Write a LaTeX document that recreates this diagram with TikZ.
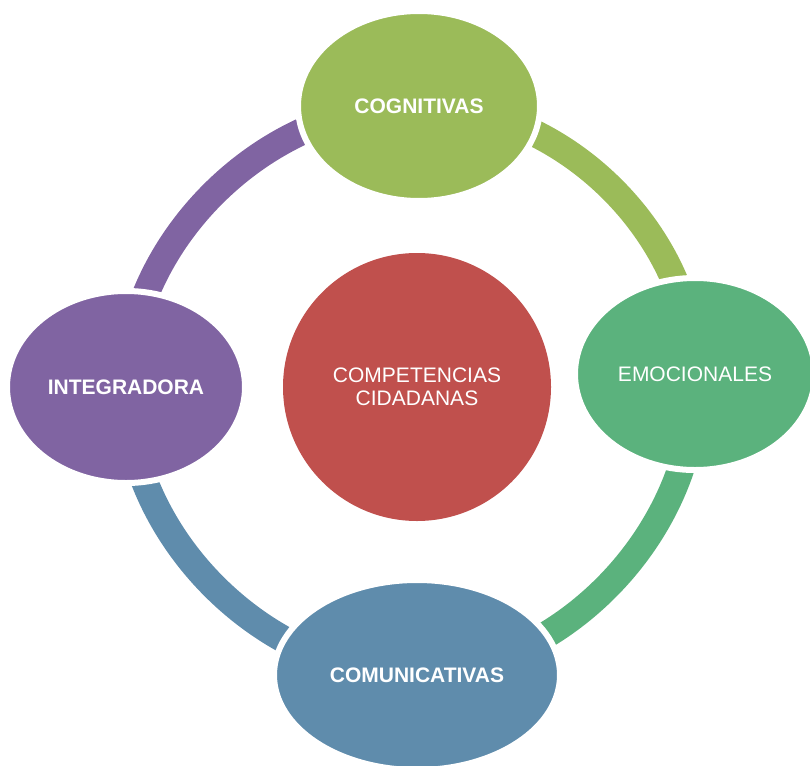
\documentclass[tikz,border=0pt]{standalone}
\usepackage{fontspec}
\setmainfont{Liberation Sans}
\usetikzlibrary{positioning, shapes.geometric, backgrounds}

\definecolor{cogGreen}{HTML}{9BBB59}
\definecolor{emoGreen}{HTML}{5BB27D}
\definecolor{comBlue}{HTML}{5F8CAC}
\definecolor{intPurple}{HTML}{8064A2}
\definecolor{coreRed}{HTML}{C0504D}

\begin{document}
\begin{tikzpicture}[
    x=1pt, y=1pt,
    petal/.style = {
        ellipse, draw=white, line width=6pt, inner sep=0pt,
        align=center, text=white, font=\fontsize{21}{23}\selectfont
    },
    core/.style = {
        circle, inner sep=0pt, minimum size=268pt,
        align=center, text=white, font=\fontsize{21}{23}\selectfont
    },
    ring/.style = {
        line width=27pt, line cap=butt
    }
]
\useasboundingbox (0,0) rectangle (810,-765);

% Centre
\node[core, fill=coreRed] (core) at (417,-387) {COMPETENCIAS\\CIDADANAS};

% Four petals round the ring
\node[petal, fill=cogGreen,  minimum width=242pt, minimum height=190pt] (cog) at (419,-106) {\bfseries COGNITIVAS};
\node[petal, fill=emoGreen,  minimum width=240pt, minimum height=192pt] (emo) at (695,-374) {EMOCIONALES};
\node[petal, fill=comBlue,   minimum width=286pt, minimum height=190pt] (com) at (417,-675) {\bfseries COMUNICATIVAS};
\node[petal, fill=intPurple, minimum width=238pt, minimum height=192pt] (int) at (126,-387) {\bfseries INTEGRADORA};

% Ring segments, behind the petals
\begin{scope}[on background layer]
    \draw[ring, intPurple] (int.center) to[bend left=45, looseness=0.94] (cog.center);
    \draw[ring, cogGreen]  (cog.center) to[bend left=45, looseness=0.94] (emo.center);
    \draw[ring, emoGreen]  (emo.center) to[bend left=45, looseness=0.94] (com.center);
    \draw[ring, comBlue]   (com.center) to[bend left=45, looseness=0.94] (int.center);
\end{scope}

\end{tikzpicture}
\end{document}
